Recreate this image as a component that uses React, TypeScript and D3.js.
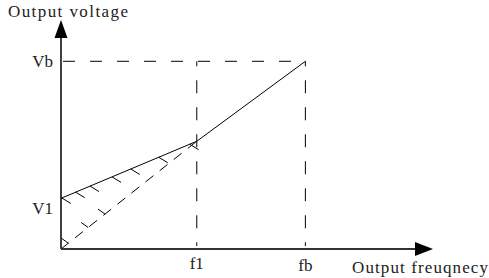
import React from 'react';
import * as d3 from 'd3';

// values (arbitrary units)
const curveFreq = [0, 50, 90];
const curveVolt = [27, 57.4, 100];
const boostFreq = [0, 50];
const boostVolt = [0, 57.4];
const freqTicks = ['f1', 'fb'];
const freqValues = [50, 90];
const voltTicks = ['V1', 'Vb'];
const voltValues = [27, 100];
const solidHatchFreq = [0.3, 5.4, 10.7, 18.8, 25.7, 36, 47.4];
const dashedHatchFreq = [2.7, 10, 16.2];
const freqMax = 137;
const voltMax = 122;

const W = 489;
const H = 278;
const FONT = '"Liberation Serif", serif';

export default function App() {
  const x = d3.scaleLinear().domain([0, freqMax]).range([61, 433]);
  const y = d3.scaleLinear().domain([0, voltMax]).range([249, 20]);
  const line = d3
    .line<[number, number]>()
    .x((d) => x(d[0]))
    .y((d) => y(d[1]));

  const curve = curveFreq.map((f, i) => [f, curveVolt[i]] as [number, number]);
  const boost = boostFreq.map((f, i) => [f, boostVolt[i]] as [number, number]);

  // linear interpolation along a two point segment
  const voltAt = (fs: number[], vs: number[], f: number) => {
    const t = (f - fs[0]) / (fs[1] - fs[0]);
    return vs[0] + t * (vs[1] - vs[0]);
  };

  const vb = voltValues[1];
  const fbIdx = 1;

  return (
    <div style={{ position: 'absolute', left: 0, top: 0 }}>
      <svg width={W} height={H} style={{ display: 'block', background: '#fff' }}>
        {/* dashed guide lines */}
        <g stroke="#000" strokeWidth={1} fill="none">
          <line
            x1={x(0) + 2}
            y1={y(vb)}
            x2={x(freqValues[fbIdx])}
            y2={y(vb)}
            strokeDasharray="12 15"
          />
          {freqValues.map((f, i) => (
            <line
              key={i}
              x1={x(f)}
              y1={y(vb)}
              x2={x(f)}
              y2={y(0) - 3}
              strokeDasharray="13 14"
              strokeDashoffset={8}
            />
          ))}
          <path d={line(boost) || ''} strokeDasharray="10 8" />
        </g>

        {/* hatch marks */}
        <g stroke="#000" strokeWidth={1}>
          {solidHatchFreq.map((f, i) => {
            const px = x(f);
            const py = y(voltAt(curveFreq, curveVolt, f));
            return <line key={'s' + i} x1={px} y1={py} x2={px + 9} y2={py + 5.5} />;
          })}
          {dashedHatchFreq.map((f, i) => {
            const px = x(f);
            const py = y(voltAt(boostFreq, boostVolt, f));
            return <line key={'d' + i} x1={px} y1={py} x2={px - 7} y2={py - 5} />;
          })}
        </g>

        {/* output curve */}
        <path d={line(curve) || ''} stroke="#000" strokeWidth={1} fill="none" />

        {/* axes */}
        <line x1={x(0)} y1={y(0)} x2={x(0)} y2={38} stroke="#000" strokeWidth={1.5} />
        <line x1={x(0)} y1={y(0)} x2={415} y2={y(0)} stroke="#333" strokeWidth={2} />
        <path d={`M${x(0)},${y(voltMax)} L${x(0) - 6.5},38 L${x(0) + 6.5},38 Z`} fill="#000" />
        <path d={`M${x(freqMax)},${y(0)} L415,${y(0) - 7} L415,${y(0) + 7} Z`} fill="#000" />

        {/* labels */}
        <g fontFamily={FONT} fontSize={17} fill="#222">
          <text x={8} y={17} textLength={120} lengthAdjust="spacing">Output voltage</text>
          <text x={352} y={273} textLength={136} lengthAdjust="spacing">Output freuqnecy</text>
          {voltTicks.map((t, i) => (
            <text
              key={t}
              x={x(0) - 8}
              y={i === 0 ? y(voltValues[i]) + 16 : y(voltValues[i]) + 6}
              textAnchor="end"
            >
              {t}
            </text>
          ))}
          {freqTicks.map((t, i) => (
            <text key={t} x={x(freqValues[i])} y={i === 0 ? 269 : 271} textAnchor="middle">
              {t}
            </text>
          ))}
        </g>
      </svg>
    </div>
  );
}
